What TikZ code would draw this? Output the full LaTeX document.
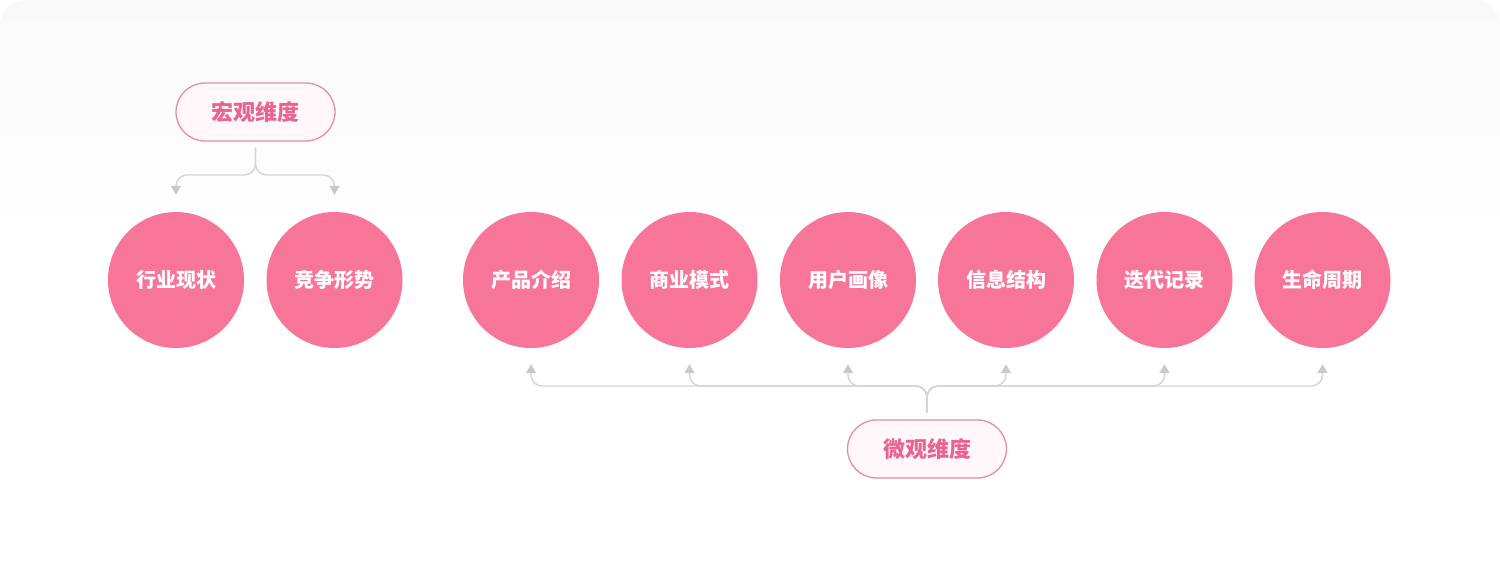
\documentclass[tikz,border=0pt]{standalone}
\usepackage{fontspec}
\newfontfamily\cjk{Noto Sans CJK SC}
\usetikzlibrary{arrows.meta,shapes.misc}
\definecolor{circ}{HTML}{F8759A}
\definecolor{pillline}{HTML}{E38DA8}
\definecolor{pillfill}{HTML}{FFF7F9}
\definecolor{pilltext}{HTML}{E9658F}
\definecolor{linegray}{HTML}{D4D4D4}
\definecolor{tipgray}{HTML}{C9C9C9}
\definecolor{cardtop}{HTML}{FAF9FA}
\begin{document}
\begin{tikzpicture}[x=1pt,y=-1pt,
  topic/.style={circle, fill=circ, minimum size=136pt, inner sep=0pt, text=white,
    font=\cjk\bfseries\fontsize{20}{20}\selectfont},
  pill/.style={rounded rectangle, draw=pillline, line width=1.3pt, fill=pillfill,
    minimum width=159pt, minimum height=58pt, inner sep=0pt, text=pilltext,
    font=\cjk\bfseries\fontsize{22}{22}\selectfont},
  link/.style={draw=linegray, line width=1.4pt, rounded corners=11pt,
    -{Triangle[width=10pt,length=9pt,color=tipgray]}}]
\useasboundingbox (0,0) rectangle (1500,562);
\fill[white] (0,0) rectangle (1500,562);
\begin{scope}
  \clip[rounded corners=26pt] (0,0) rectangle (1500,562);
  \shade[top color=cardtop, bottom color=white] (0,0) rectangle (1500,230);
\end{scope}

\node[pill] (macro) at (255.5,112) {宏观维度};
\node[topic] (t1) at (176,280) {行业现状};
\node[topic] (t2) at (334.5,280) {竞争形势};

\node[topic] (m1) at (531,280) {产品介绍};
\node[topic] (m2) at (689.5,280) {商业模式};
\node[topic] (m3) at (848,280) {用户画像};
\node[topic] (m4) at (1006,280) {信息结构};
\node[topic] (m5) at (1164.5,280) {迭代记录};
\node[topic] (m6) at (1322.5,280) {生命周期};

\node[pill] (micro) at (927,449) {微观维度};

\coordinate (mj) at (255.5,175);
\draw[link] ([yshift=-6pt]macro.south) -- (mj) -| ([yshift=17pt]t1.north);
\draw[link] ([yshift=-6pt]macro.south) -- (mj) -| ([yshift=17pt]t2.north);

\coordinate (bj) at (927,386);
\foreach \m in {m1,m2,m3,m4,m5,m6}
  \draw[link] ([yshift=7pt]micro.north) -- (bj) -| ([yshift=-16pt]\m.south);
\end{tikzpicture}
\end{document}
